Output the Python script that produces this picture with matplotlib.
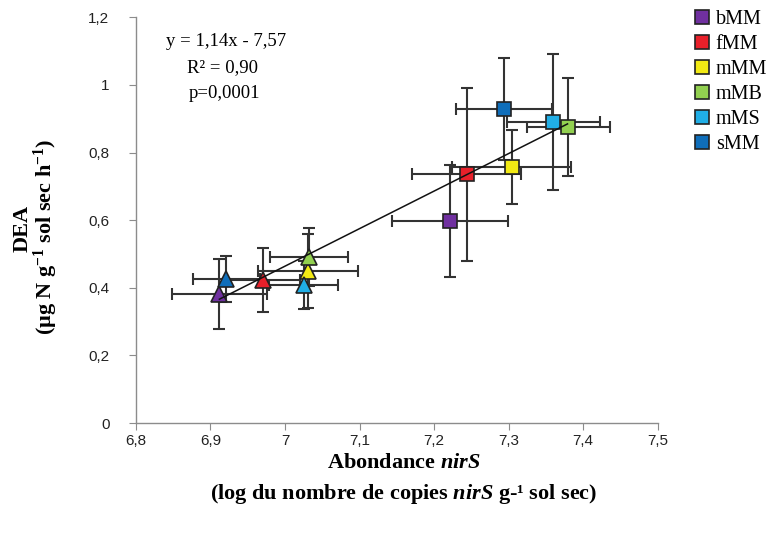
import matplotlib
matplotlib.use("Agg")
import matplotlib.pyplot as plt
from matplotlib.lines import Line2D

plt.rcParams['mathtext.fontset'] = 'custom'
plt.rcParams['mathtext.rm'] = 'Liberation Serif:bold'
plt.rcParams['mathtext.bf'] = 'Liberation Serif:italic:bold'
plt.rcParams['mathtext.it'] = 'Liberation Serif:italic:bold'

groups = ["bMM", "fMM", "mMM", "mMB", "mMS", "sMM"]
colors = ["#7030A0", "#E8202A", "#F2EA14", "#92D050", "#20AEE6", "#0F6EBA"]

# squares
sq_x = [7.221, 7.244, 7.304, 7.380, 7.360, 7.294]
sq_y = [0.597, 0.736, 0.757, 0.875, 0.890, 0.928]
sq_xerr = [0.078, 0.073, 0.080, 0.056, 0.062, 0.064]
sq_yerr = [0.165, 0.256, 0.110, 0.144, 0.200, 0.151]

# triangles
tr_x = [6.912, 6.970, 7.031, 7.032, 7.025, 6.921]
tr_y = [0.381, 0.423, 0.449, 0.491, 0.408, 0.426]
tr_xerr = [0.064, 0.050, 0.067, 0.052, 0.046, 0.045]
tr_yerr = [0.104, 0.095, 0.110, 0.085, 0.071, 0.068]

# drawn regression line
reg_x = [6.912, 7.379]
reg_slope = 1.11
reg_intercept = -7.306

xticks = [6.8, 6.9, 7.0, 7.1, 7.2, 7.3, 7.4, 7.5]
xtick_labels = ["6,8", "6,9", "7", "7,1", "7,2", "7,3", "7,4", "7,5"]
yticks = [0, 0.2, 0.4, 0.6, 0.8, 1.0, 1.2]
ytick_labels = ["0", "0,2", "0,4", "0,6", "0,8", "1", "1,2"]

fig = plt.figure(figsize=(7.72, 5.39), dpi=100)
ax = fig.add_axes([0.176, 0.215, 0.676, 0.753])

ecol = "#333333"
for i in range(len(groups)):
    ax.errorbar(sq_x[i], sq_y[i], xerr=sq_xerr[i], yerr=sq_yerr[i], fmt='none',
                ecolor=ecol, elinewidth=1.5, capsize=4, capthick=1.5, zorder=2)
    ax.errorbar(tr_x[i], tr_y[i], xerr=tr_xerr[i], yerr=tr_yerr[i], fmt='none',
                ecolor=ecol, elinewidth=1.5, capsize=4, capthick=1.5, zorder=2)
for i in range(len(groups)):
    ax.plot(sq_x[i], sq_y[i], marker='s', ms=10, color=colors[i], mec="#222222", mew=1.2,
            linestyle='none', zorder=3)
    ax.plot(tr_x[i], tr_y[i], marker='^', ms=11, color=colors[i], mec="#222222", mew=1.2,
            linestyle='none', zorder=3)

ax.plot(reg_x, [reg_slope * v + reg_intercept for v in reg_x], color="#111111", lw=1.1, zorder=4)

ax.set_xlim(6.8, 7.5)
ax.set_ylim(0, 1.2)
ax.set_xticks(xticks)
ax.set_xticklabels(xtick_labels)
ax.set_yticks(yticks)
ax.set_yticklabels(ytick_labels)
for sp in ["top", "right"]:
    ax.spines[sp].set_visible(False)
for sp in ["left", "bottom"]:
    ax.spines[sp].set_color("#8C8C8C")
    ax.spines[sp].set_linewidth(1.0)
ax.tick_params(direction='out', length=5, color="#8C8C8C", labelsize=11,
               labelcolor="#222222")
ax.tick_params(axis='y', pad=14)
ax.tick_params(axis='x', pad=3)
for lab in ax.get_xticklabels() + ax.get_yticklabels():
    lab.set_family("Liberation Sans")

ax.text(0.172, 0.941, "y = 1,14x - 7,57", transform=ax.transAxes, ha='center', va='center',
        family="Liberation Serif", fontsize=13.5)
ax.text(0.166, 0.877, "R² = 0,90", transform=ax.transAxes, ha='center', va='center',
        family="Liberation Serif", fontsize=13.5)
ax.text(0.170, 0.813, "p=0,0001", transform=ax.transAxes, ha='center', va='center',
        family="Liberation Serif", fontsize=13.5)

fig.text(0.523, 0.141, r"Abondance $\mathbf{nirS}$", ha='center', va='center',
         family="Liberation Serif", fontweight='bold', fontsize=16)
fig.text(0.523, 0.083, r"(log du nombre de copies $\mathbf{nirS}$ g-¹ sol sec)", ha='center',
         va='center', family="Liberation Serif", fontweight='bold', fontsize=16)
fig.text(0.029, 0.577, "DEA", rotation=90, ha='center', va='center',
         family="Liberation Serif", fontweight='bold', fontsize=16)
fig.text(0.060, 0.56, r"(µg N g$^{-1}$ sol sec h$^{-1}$)", rotation=90, ha='center',
         va='center', family="Liberation Serif", fontweight='bold', fontsize=16)

handles = [Line2D([], [], marker='s', ms=10, color=c, mec="#222222", mew=1.2, linestyle='none')
           for c in colors]
fig.legend(handles, groups, loc='upper left', bbox_to_anchor=(0.888, 0.997), frameon=False,
           prop={'family': 'Liberation Serif', 'size': 14.5}, handlelength=0.8,
           handletextpad=0.3, labelspacing=0.3, borderaxespad=0)

fig.savefig("out.png", dpi=100)
